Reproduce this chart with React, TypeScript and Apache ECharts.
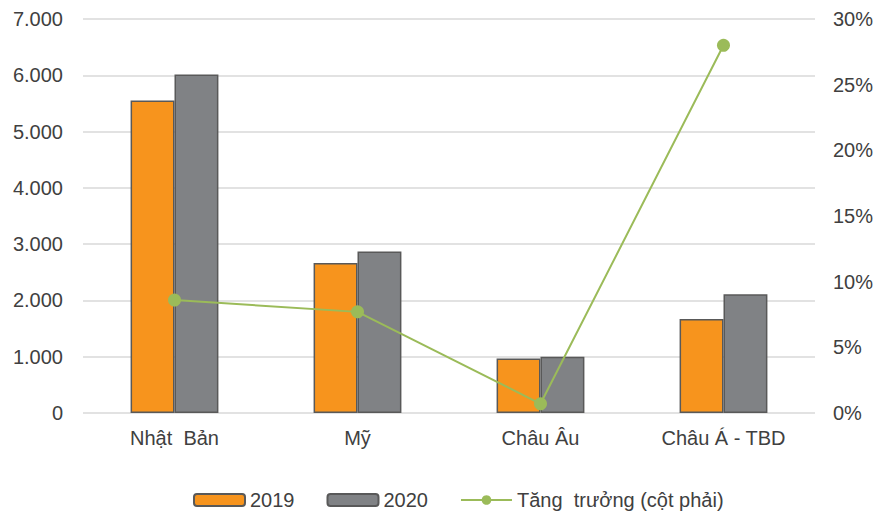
import React, { useEffect, useRef } from "react";
import * as echarts from "echarts";

const categories = ["Nhật  Bản", "Mỹ", "Châu Âu", "Châu Á - TBD"];
const values2019 = [5550, 2665, 970, 1670];
const values2020 = [6015, 2870, 1000, 2110];
const growth = [8.6, 7.7, 0.7, 28.0];
const seriesNames = ["2019", "2020", "Tăng  trưởng (cột phải)"];

const fmtThousands = (v: number) =>
  String(Math.round(v)).replace(/\B(?=(\d{3})+(?!\d))/g, ".");

export default function App() {
  const ref = useRef<HTMLDivElement>(null);
  useEffect(() => {
    if (!ref.current) return;
    const chart = echarts.init(ref.current, null, { renderer: "svg" });
    const font = "'Liberation Sans', Arial, sans-serif";
    const textColor = "#404040";
    chart.setOption({
      animation: false,
      textStyle: { fontFamily: font },
      grid: { left: 75, right: 76, top: 11, bottom: 103, containLabel: false },
      legend: {
        top: 482,
        left: 185,
        padding: 0,
        itemWidth: 51,
        itemHeight: 12,
        itemGap: 32,
        textStyle: { fontSize: 20, color: textColor, fontFamily: font },
        data: seriesNames,
      },
      xAxis: {
        type: "category",
        data: categories,
        axisLine: { show: false },
        axisTick: { show: false },
        axisLabel: { fontSize: 20, color: textColor, margin: 15 },
      },
      yAxis: [
        {
          type: "value",
          min: 0,
          max: 7000,
          interval: 1000,
          axisLine: { show: false },
          axisTick: { show: false },
          splitLine: { lineStyle: { color: "#d9d9d9", width: 1.5 } },
          axisLabel: {
            fontSize: 20,
            color: textColor,
            margin: 20,
            formatter: (v: number) => fmtThousands(v),
          },
        },
        {
          type: "value",
          min: 0,
          max: 30,
          interval: 5,
          axisLine: { show: false },
          axisTick: { show: false },
          splitLine: { show: false },
          axisLabel: {
            fontSize: 20,
            color: textColor,
            margin: 18,
            formatter: (v: number) => v + "%",
          },
        },
      ],
      series: [
        {
          name: seriesNames[0],
          type: "bar",
          data: values2019,
          barWidth: "24%",
          barGap: "0%",
          itemStyle: { color: "#F7941D", borderColor: "#595959", borderWidth: 1.5 },
        },
        {
          name: seriesNames[1],
          type: "bar",
          data: values2020,
          barWidth: "24%",
          barGap: "0%",
          itemStyle: { color: "#808285", borderColor: "#595959", borderWidth: 1.5 },
        },
        {
          name: seriesNames[2],
          type: "line",
          yAxisIndex: 1,
          data: growth,
          symbol: "circle",
          symbolSize: 13,
          lineStyle: { color: "#9BBB59", width: 2 },
          itemStyle: { color: "#9BBB59" },
        },
      ],
    });
    return () => chart.dispose();
  }, []);
  return <div ref={ref} style={{ width: 883, height: 508 }} />;
}
